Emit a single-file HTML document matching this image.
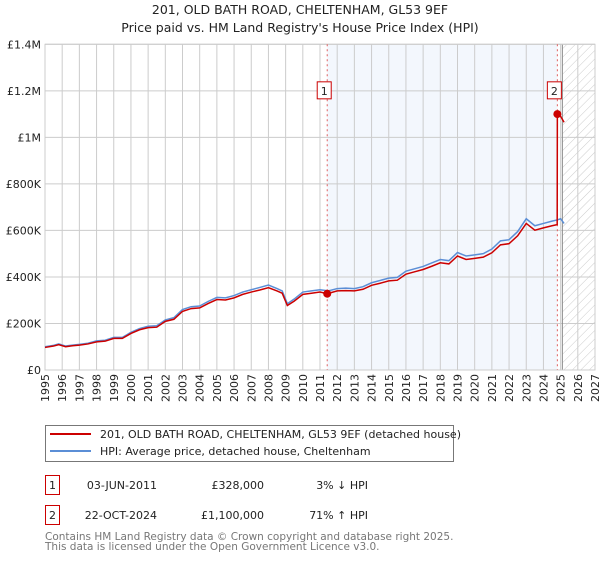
<!DOCTYPE html>
<html><head><meta charset="utf-8"><style>
body{margin:0;background:#fff;font-family:"DejaVu Sans","Liberation Sans",sans-serif;}
svg text{font-family:"DejaVu Sans","Liberation Sans",sans-serif;}
</style></head><body>
<svg id="chart" width="600" height="560" viewBox="0 0 600 560">
<defs><pattern id="hatch" width="6" height="6" patternUnits="userSpaceOnUse" patternTransform="rotate(45)"><line x1="0" y1="0" x2="0" y2="6" stroke="#ccc" stroke-width="1"/></pattern></defs>
<text x="300" y="14" text-anchor="middle" font-size="12.5" fill="#222">201, OLD BATH ROAD, CHELTENHAM, GL53 9EF</text>
<text x="300" y="32" text-anchor="middle" font-size="12.5" fill="#222">Price paid vs. HM Land Registry's House Price Index (HPI)</text>
<g id="plot"></g>
<g>
<rect x="45.5" y="425.5" width="408" height="36" fill="#fff" stroke="#777"/>
<line x1="50" y1="434" x2="91" y2="434" stroke="#cc0000" stroke-width="2"/>
<text x="100" y="438" font-size="11" fill="#222">201, OLD BATH ROAD, CHELTENHAM, GL53 9EF (detached house)</text>
<line x1="50" y1="451" x2="91" y2="451" stroke="#5b8ed6" stroke-width="2"/>
<text x="100" y="455" font-size="11" fill="#222">HPI: Average price, detached house, Cheltenham</text>
</g>
<g>
<rect x="45.5" y="475.5" width="14" height="19" fill="#fff" stroke="#cc0000"/>
<text x="52.5" y="489" text-anchor="middle" font-size="11" fill="#222">1</text>
<text x="157" y="489" text-anchor="end" font-size="11" fill="#222">03-JUN-2011</text>
<text x="264" y="489" text-anchor="end" font-size="11" fill="#222">£328,000</text>
<text x="368" y="489" text-anchor="end" font-size="11" fill="#222">3% ↓ HPI</text>
</g>
<g>
<rect x="45.5" y="505.5" width="14" height="19" fill="#fff" stroke="#cc0000"/>
<text x="52.5" y="519" text-anchor="middle" font-size="11" fill="#222">2</text>
<text x="157" y="519" text-anchor="end" font-size="11" fill="#222">22-OCT-2024</text>
<text x="264" y="519" text-anchor="end" font-size="11" fill="#222">£1,100,000</text>
<text x="368" y="519" text-anchor="end" font-size="11" fill="#222">71% ↑ HPI</text>
</g>
<text x="45" y="540" font-size="10.5" fill="#777">Contains HM Land Registry data © Crown copyright and database right 2025.</text>
<text x="45" y="550" font-size="10.5" fill="#777">This data is licensed under the Open Government Licence v3.0.</text>
</svg>
<script>
const hpiYears=[1995,1995.5,1995.8,1996.2,1996.6,1997,1997.5,1998,1998.5,1999,1999.5,2000,2000.5,2001,2001.5,2002,2002.5,2003,2003.5,2004,2004.5,2005,2005.5,2006,2006.5,2007,2007.5,2008,2008.5,2008.8,2009.1,2009.5,2010,2010.5,2011,2011.5,2012,2012.5,2013,2013.5,2014,2014.5,2015,2015.5,2016,2016.5,2017,2017.5,2018,2018.5,2019,2019.5,2020,2020.5,2021,2021.5,2022,2022.5,2023,2023.5,2024,2024.5,2024.8,2025,2025.2];
const hpiValues=[100000,106000,112000,103000,107000,110000,115000,125000,128000,140000,140000,162000,178000,188000,190000,215000,225000,260000,272000,275000,295000,312000,310000,320000,335000,345000,355000,365000,350000,340000,285000,305000,335000,340000,345000,340000,350000,352000,350000,358000,375000,385000,395000,398000,425000,435000,445000,460000,475000,470000,505000,490000,495000,500000,520000,555000,560000,595000,650000,620000,630000,640000,645000,650000,630000];
const priceYears=[1995,1995.5,1995.8,1996.2,1996.6,1997,1997.5,1998,1998.5,1999,1999.5,2000,2000.5,2001,2001.5,2002,2002.5,2003,2003.5,2004,2004.5,2005,2005.5,2006,2006.5,2007,2007.5,2008,2008.5,2008.8,2009.1,2009.5,2010,2010.5,2011,2011.42,2012,2012.5,2013,2013.5,2014,2014.5,2015,2015.5,2016,2016.5,2017,2017.5,2018,2018.5,2019,2019.5,2020,2020.5,2021,2021.5,2022,2022.5,2023,2023.5,2024,2024.5,2024.8,2024.81,2025,2025.2];
const priceValues=[97000,103000,109000,100000,104000,107000,112000,121000,124000,136000,136000,157000,173000,182000,184000,209000,218000,252000,264000,267000,286000,303000,301000,310000,325000,335000,344000,354000,340000,330000,277000,296000,325000,330000,335000,328000,340000,341000,340000,347000,364000,373000,383000,386000,412000,422000,432000,446000,461000,456000,490000,475000,480000,485000,504000,538000,543000,577000,630000,601000,611000,620000,625000,1100000,1090000,1065000];
const yTicks=[0,200000,400000,600000,800000,1000000,1200000,1400000];
const yTickLabels=["£0","£200K","£400K","£600K","£800K","£1M","£1.2M","£1.4M"];
const xTicks=[1995,1996,1997,1998,1999,2000,2001,2002,2003,2004,2005,2006,2007,2008,2009,2010,2011,2012,2013,2014,2015,2016,2017,2018,2019,2020,2021,2022,2023,2024,2025,2026,2027];
const sales=[{n:"1",t:2011.42,v:328000},{n:"2",t:2024.81,v:1100000}];
const NS="http://www.w3.org/2000/svg";
const X0=45,X1=595,Y0=370,Y1=44.3;
const sx=t=>X0+(t-1995)/(2027-1995)*(X1-X0);
const sy=v=>Y0-v/1400000*(Y0-Y1);
const g=document.getElementById('plot');
function mk(tag,a){const e=document.createElementNS(NS,tag);for(const k in a)e.setAttribute(k,a[k]);g.appendChild(e);return e;}
let e;
e=mk('rect',{x:sx(2011.42),y:Y1,width:sx(2024.81)-sx(2011.42),height:Y0-Y1,fill:'#eef3fc',opacity:0.7});


e=mk('rect',{x:sx(2025.1),y:Y1,width:X1-sx(2025.1),height:Y0-Y1,fill:'url(#hatch)'});


xTicks.forEach(t=>{e=mk('line',{x1:sx(t),x2:sx(t),y1:Y1,y2:Y0,stroke:'#ccc','stroke-width':1});


e=mk('text',{x:0,y:0,transform:`translate(${sx(t)+4},${Y0+4}) rotate(-90)`,'text-anchor':'end','font-size':11,fill:'#222'});
e.textContent=t;

});
yTicks.forEach((v,i)=>{e=mk('line',{x1:X0,x2:X1,y1:sy(v),y2:sy(v),stroke:'#ccc','stroke-width':1});


e=mk('text',{x:X0-4,y:sy(v)+4,'text-anchor':'end','font-size':11,fill:'#222'});
e.textContent=yTickLabels[i];

});
e=mk('line',{x1:sx(2025.1),x2:sx(2025.1),y1:Y1,y2:Y0,stroke:'#888','stroke-width':1});


e=mk('rect',{x:X0,y:Y1,width:X1-X0,height:Y0-Y1,fill:'none',stroke:'#ccc'});


sales.forEach(s=>{e=mk('line',{x1:sx(s.t),x2:sx(s.t),y1:Y1,y2:Y0,stroke:'#e06060','stroke-width':1,'stroke-dasharray':'2,3'});

});
e=mk('polyline',{points:hpiYears.map((t,i)=>sx(t)+','+sy(hpiValues[i])).join(' '),fill:'none',stroke:'#5b8ed6','stroke-width':1.5});


e=mk('polyline',{points:priceYears.map((t,i)=>sx(t)+','+sy(priceValues[i])).join(' '),fill:'none',stroke:'#cc0000','stroke-width':1.5});


sales.forEach(s=>{e=mk('circle',{cx:sx(s.t),cy:sy(s.v),r:4,fill:'#cc0000'});


e=mk('rect',{x:sx(s.t)-10,y:sy(1200000)-9,width:14,height:17,fill:'#fff',stroke:'#cc0000'});


e=mk('text',{x:sx(s.t)-3,y:sy(1200000)+4,'text-anchor':'middle','font-size':11,fill:'#222'});
e.textContent=s.n;

});
</script>
</body></html>
